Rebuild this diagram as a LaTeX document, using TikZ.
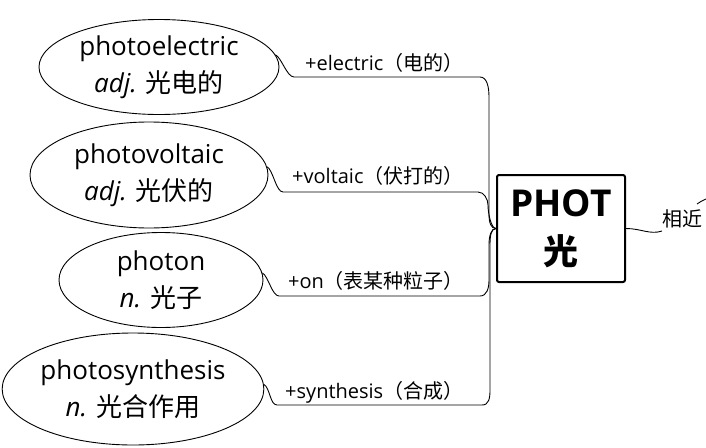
\documentclass[tikz,border=0pt]{standalone}
\usepackage{fontspec}
\setmainfont{Open Sans}
\newfontfamily\cjk{Noto Sans CJK SC}
\usetikzlibrary{shapes.geometric}
\begin{document}
\begin{tikzpicture}[x=1pt,y=-1pt,
  ell/.style={draw, ellipse, line width=0.9pt, inner sep=0pt, font=\fontsize{26}{37}\selectfont, align=center},
  lbl/.style={anchor=base west, inner sep=0pt, font=\fontsize{20}{22}\selectfont},
  conn/.style={line width=0.9pt},
  root/.style={draw, line width=2pt, rounded corners=2pt, minimum width=128pt, minimum height=107pt, align=center, inner sep=0pt, font=\fontsize{37}{48}\selectfont\bfseries}]
\useasboundingbox (0,0) rectangle (706,447);
% ellipses
\node[ell, minimum width=240pt, minimum height=95pt] (e1) at (159,67) {photoelectric\\\textit{adj.} {\cjk 光电的}};
\node[ell, minimum width=238pt, minimum height=106pt] (e2) at (149,175) {photovoltaic\\\textit{adj.} {\cjk 光伏的}};
\node[ell, minimum width=204pt, minimum height=95pt] (e3) at (161,280) {photon\\\textit{n.} {\cjk 光子}};
\node[ell, minimum width=255pt, minimum height=112pt] (e4) at (133,389) {photosynthesis\\\textit{n.} {\cjk 光合作用}};
% root
\node[root] (root) at (561,228.5) {PHOT\\{\cjk\fontsize{35}{48}\selectfont 光}};
% labels
\node[lbl] (t1) at (305,70) {+electric{\cjk （电的）}};
\node[lbl] (t2) at (292,183) {+voltaic{\cjk （伏打的）}};
\node[lbl] (t3) at (288,288) {+on{\cjk （表某种粒子）}};
\node[lbl] (t4) at (285,398) {+synthesis{\cjk （合成）}};
\node[anchor=base west, inner sep=0pt, font=\fontsize{20}{22}\selectfont\cjk] (t5) at (662,226) {相近};
% coordinates
\coordinate (a1) at (294,77); \coordinate (b1) at (480,77); \coordinate (c1) at (489,97); \coordinate (d1) at (489,214);
\coordinate (a2) at (283,192); \coordinate (b2) at (478,192); \coordinate (c2) at (488,205);
\coordinate (a3) at (279,296); \coordinate (b3) at (480,296); \coordinate (c3) at (489,280); \coordinate (d3) at (489,245);
\coordinate (a4) at (277,405); \coordinate (b4) at (482,405); \coordinate (c4) at (490,390); \coordinate (d4) at (490,245);
\coordinate (r1) at (662,231);
\coordinate (s1) at (697,204); \coordinate (s2) at (706,199);
% connectors
\draw[conn] (e1.6) .. controls +(6,3) and +(-7,0) .. (a1) -- (b1) .. controls +(7,0) and +(0,-10) .. (c1) -- (d1) .. controls +(0,9) and +(-5,0) .. (root.west);
\draw[conn] (e2.4) .. controls +(6,3) and +(-7,0) .. (a2) -- (b2) .. controls +(6,0) and +(0,-6) .. (c2) .. controls +(0,8) and +(-5,0) .. (root.west);
\draw[conn] (e3.4) .. controls +(6,3) and +(-7,0) .. (a3) -- (b3) .. controls +(7,0) and +(0,8) .. (c3) -- (d3) .. controls +(0,-9) and +(-5,0) .. (root.west);
\draw[conn] (e4.2) .. controls +(6,3) and +(-7,0) .. (a4) -- (b4) .. controls +(7,0) and +(0,8) .. (c4) -- (d4) .. controls +(0,-9) and +(-5,0) .. (root.west);
\draw[conn] (root.east) .. controls +(15,0) and +(-12,4) .. (r1);
\draw[conn] (s1) .. controls +(3,-2) and +(-3,1) .. (s2);
\end{tikzpicture}
\end{document}
